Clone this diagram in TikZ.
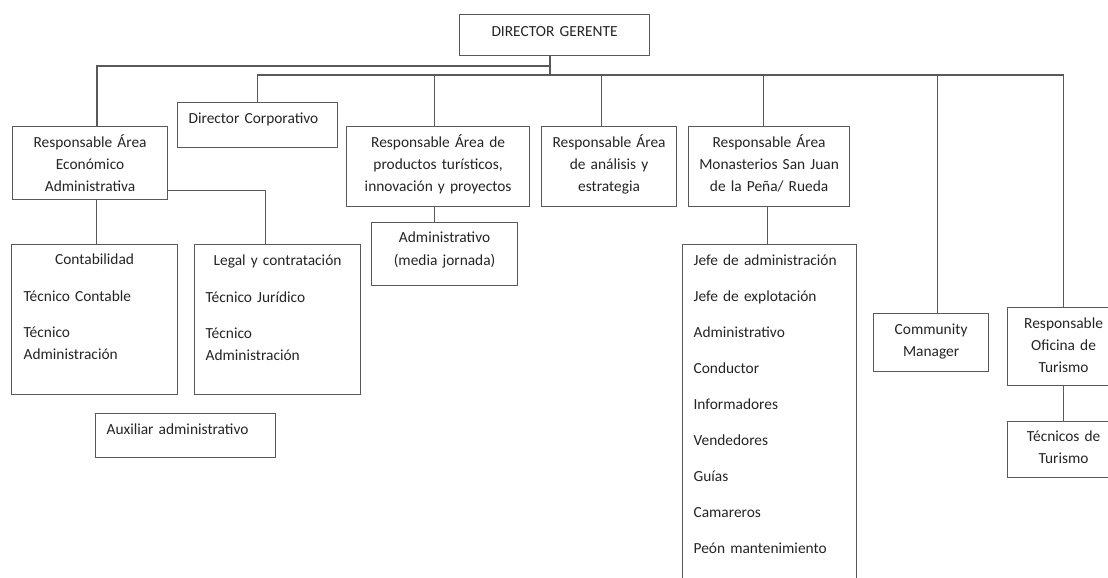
\documentclass[tikz,border=0pt]{standalone}
\usepackage{fontspec}
\setmainfont{Carlito}
\usetikzlibrary{positioning}
\definecolor{linegray}{gray}{0.35}
\definecolor{inkgray}{gray}{0.14}

\begin{document}
\begin{tikzpicture}[x=1pt, y=-1pt,
    unit/.style={draw=linegray, line width=1.2pt, anchor=north west,
                 inner ysep=0pt, inner xsep=5pt, align=center, text=inkgray,
                 font=\fontsize{15.4}{22}\selectfont},
    link/.style={draw=linegray, line width=1.2pt}]

        \useasboundingbox (0,0) rectangle (1108,578);
        \clip (0,0) rectangle (1108,578);

        % Top of the chart
        \node[unit, text width=180pt, text height=22pt, text depth=19pt] (dg) at (459,14) {DIRECTOR GERENTE};

        % First row of areas
        \node[unit, text width=145pt, text height=21pt, text depth=52pt] (rae) at (12,126) {Responsable Área\\Económico\\Administrativa};
        \node[unit, inner xsep=11pt, text width=138pt, align=left, text height=21pt, text depth=24pt] (corp) at (177,102) {Director Corporativo};
        \node[unit, text width=173pt, text height=21pt, text depth=59pt] (prod) at (346,126) {Responsable Área de\\productos turísticos,\\innovación y proyectos};
        \node[unit, text width=125pt, text height=21pt, text depth=59pt] (ana) at (541,126) {Responsable Área\\de análisis y\\estrategia};
        \node[unit, text width=151pt, text height=21pt, text depth=59pt] (mon) at (688,126) {Responsable Área\\Monasterios San Juan\\de la Peña/ Rueda};
        \node[unit, text width=105pt, text height=21pt, text depth=37pt] (cm) at (873,313) {Community\\Manager};
        \node[unit, text width=102pt, text height=21pt, text depth=57pt] (rot) at (1007,307) {Responsable\\Oficina de\\Turismo};

        % Second row
        \node[unit, inner xsep=12pt, text width=142pt, align=left, text height=20pt, text depth=130pt] (cont) at (11,244)
            {\makebox[\linewidth]{Contabilidad}\\[15pt]Técnico Contable\\[14pt]Técnico\\Administración};
        \node[unit, inner xsep=11pt, text width=144pt, align=left, text height=21pt, text depth=129pt] (legal) at (194,244)
            {\makebox[\linewidth]{Legal y contratación}\\[15pt]Técnico Jurídico\\[14pt]Técnico\\Administración};
        \node[unit, inner xsep=11pt, text width=158pt, align=left, text height=21pt, text depth=23pt] (aux) at (95,413) {Auxiliar administrativo};
        \node[unit, text width=136pt, text height=20pt, text depth=43pt] (adm) at (371,222) {Administrativo\\[1pt](media jornada)};
        \node[unit, inner xsep=11pt, text width=152pt, align=left, text height=21pt, text depth=335pt,
              font=\fontsize{15.4}{36}\selectfont] (staff) at (682,244)
            {Jefe de administración\\Jefe de explotación\\Administrativo\\Conductor\\Informadores\\Vendedores\\Guías\\Camareros\\Peón mantenimiento};
        \node[unit, text width=102pt, text height=20pt, text depth=36pt] (tec) at (1007,421) {Técnicos de\\Turismo};

        % Buses below the director
        \coordinate (split) at (550,66);
        \coordinate (hub) at (550,75);
        \draw[link] (dg.south -| hub) -- ([yshift=-1pt]hub);
        \draw[link, line width=2pt] (split) -| ([xshift=6.5pt]rae.north);
        \draw[link] (corp.north) |- (hub) -- (hub -| rot.north) -- (rot.north);

        % Drops to the first row
        \draw[link] ([xshift=-3.5pt]prod.north) -- ([xshift=-3.5pt]prod.north |- hub);
        \draw[link] ([xshift=-7.5pt]ana.north) -- ([xshift=-7.5pt]ana.north |- hub);
        \draw[link] ([xshift=-5.5pt]mon.north) -- ([xshift=-5.5pt]mon.north |- hub);
        \draw[link] ([xshift=6.5pt]cm.north) -- ([xshift=6.5pt]cm.north |- hub);

        % Drops to the second row
        \draw[link] ([xshift=6.5pt]rae.south) -- ([xshift=6.5pt]rae.south |- cont.north);
        \draw[link] ([yshift=10pt]rae.south east) -| ([xshift=-12pt]legal.north);
        \draw[link] ([xshift=-3.5pt]prod.south) -- ([xshift=-3.5pt]prod.south |- adm.north);
        \draw[link] ([xshift=-1.5pt]mon.south) -- ([xshift=-1.5pt]mon.south |- staff.north);
        \draw[link] (rot.south) -- (tec.north);

    \end{tikzpicture}
\end{document}
